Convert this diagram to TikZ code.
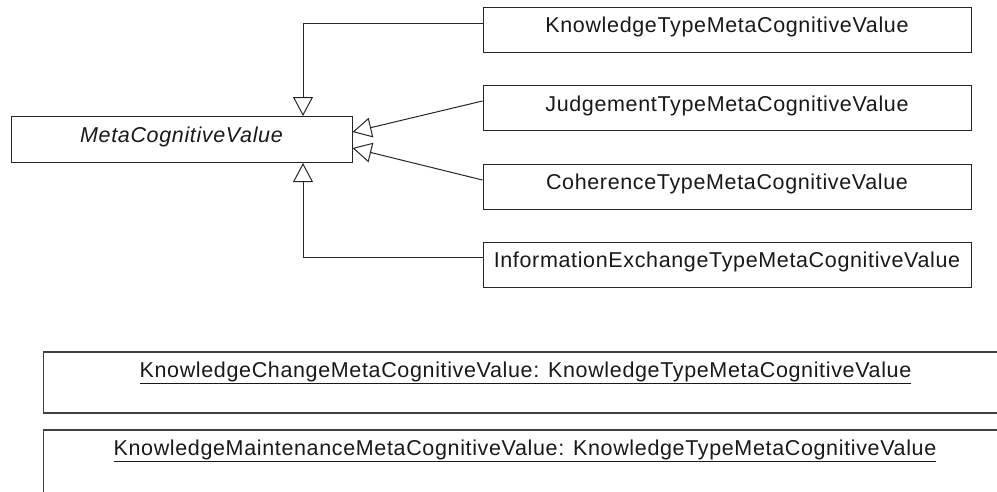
\documentclass[tikz,border=0pt]{standalone}
\usepackage{fontspec}
\setmainfont{Liberation Sans}[LetterSpace=3]
\usetikzlibrary{arrows.meta,calc}
\begin{document}
\begin{tikzpicture}[x=1pt,y=-1pt,
  cls/.style={draw=black!85, line width=1pt, minimum width=488pt, minimum height=45pt,
    inner sep=0pt, text height=15pt, text depth=8.5pt,
    font=\fontsize{21.5}{24}\selectfont, text=black!90},
  obj/.style={draw=black!75, line width=1.4pt, minimum width=1000pt, minimum height=61pt,
    inner sep=0pt, text height=15pt, text depth=26pt, anchor=west,
    font=\fontsize{21.5}{24}\selectfont, text=black!90},
  gen/.style={-{Triangle[open, length=19pt, width=20pt, fill=white]}, draw=black!85, line width=1pt}
]
\useasboundingbox (0,0) rectangle (997,491);
\clip (0,0) rectangle (997,491);
\fill[white] (0,0) rectangle (997,491);

\node[cls, minimum width=341pt, minimum height=46pt, text depth=9pt,
  font=\fontsize{21.5}{24}\selectfont\itshape] (m) at (181.5,139.5) {MetaCognitiveValue};

\node[cls] (k) at (727,29.5) {KnowledgeTypeMetaCognitiveValue};
\node[cls] (j) at (727,108) {JudgementTypeMetaCognitiveValue};
\node[cls] (c) at (727,186.5) {CoherenceTypeMetaCognitiveValue};
\node[cls] (i) at (727,264.5) {InformationExchangeTypeMetaCognitiveValue};

\node[obj] (a) at (43,382.5) {};
\node[obj, minimum height=66pt] (b) at (43,463) {};
\node[font=\fontsize{21.5}{24}\selectfont, text=black!90, inner sep=0pt, anchor=base] (at) at (525.5,377)
  {\underline{KnowledgeChangeMetaCognitiveValue: KnowledgeTypeMetaCognitiveValue}};
\node[font=\fontsize{21.5}{24}\selectfont, text=black!90, inner sep=0pt, anchor=base] (bt) at (525,455)
  {\underline{KnowledgeMaintenanceMetaCognitiveValue: KnowledgeTypeMetaCognitiveValue}};

\coordinate (t1) at ([xshift=292.5pt]m.north west);
\coordinate (t4) at ([xshift=292.5pt]m.south west);
\draw[gen] ([yshift=6.5pt]k.west) -| (t1);
\draw[gen] ([yshift=7.5pt]i.west) -| (t4);
\draw[gen] ([yshift=7pt]j.west) -- ([yshift=7.5pt]m.east);
\draw[gen] ([yshift=6.5pt]c.west) -- ([yshift=-8.5pt]m.east);
\end{tikzpicture}
\end{document}
